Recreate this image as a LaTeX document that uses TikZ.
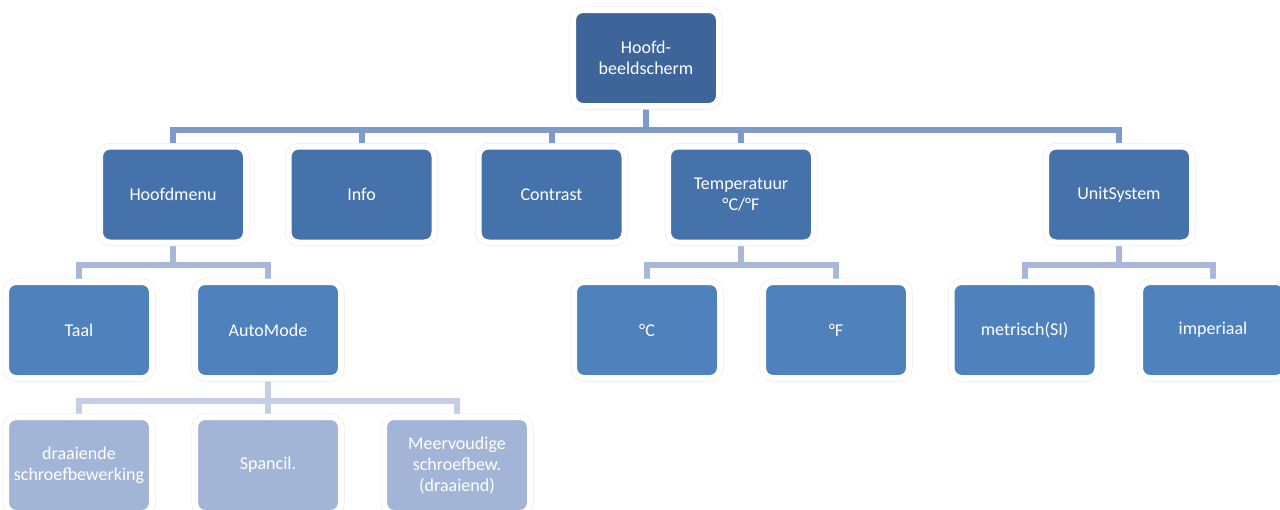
\documentclass[tikz,border=0pt]{standalone}
\usepackage{fontspec}
\setmainfont{Carlito}
\usetikzlibrary{backgrounds}
\definecolor{filltop}{HTML}{3D6599}
\definecolor{fillone}{HTML}{4672AB}
\definecolor{filltwo}{HTML}{4F81BD}
\definecolor{fillthree}{HTML}{A3B5D7}
\definecolor{linkone}{HTML}{7C9BCB}
\definecolor{linktwo}{HTML}{A7B8D9}
\definecolor{linkthree}{HTML}{C4CEE4}
\begin{document}
\begin{tikzpicture}[x=0.5pt, y=-0.5pt, line join=round, line cap=round,
	box/.style={rectangle, rounded corners=5pt, minimum width=73pt, minimum height=48pt,
		inner sep=0pt, text width=70pt, align=center, text=white,
		font=\fontsize{9}{10.5}\selectfont, draw=white, line width=3pt,
		preaction={draw=black!9, line width=3.5pt}},
	link/.style={line width=3pt}]
	\useasboundingbox (0,0) rectangle (1280,509);
	\clip (0,0) rectangle (1280,509);
	% top
	\node[box, fill=filltop] (hoofd) at (646,58) {Hoofd-\\beeldscherm};
	% level 1
	\node[box, fill=fillone] (menu) at (173,194.5) {Hoofdmenu};
	\node[box, fill=fillone] (info) at (361.5,194.5) {Info};
	\node[box, fill=fillone] (contrast) at (551.5,194.5) {Contrast};
	\node[box, fill=fillone] (temp) at (741,194.5) {Temperatuur\\°C/°F};
	\node[box, fill=fillone] (unit) at (1119,194.5) {UnitSystem};
	% level 2
	\node[box, fill=filltwo] (taal) at (79,330) {Taal};
	\node[box, fill=filltwo] (auto) at (268,330) {AutoMode};
	\node[box, fill=filltwo] (celsius) at (647,330) {°C};
	\node[box, fill=filltwo] (fahr) at (836,330) {°F};
	\node[box, fill=filltwo] (metr) at (1024.5,330) {metrisch(SI)};
	\node[box, fill=filltwo] (imp) at (1213,330) {imperiaal};
	% level 3
	\node[box, fill=fillthree] (draai) at (79,465) {draaiende\\schroefbewerking};
	\node[box, fill=fillthree] (spancil) at (268,465) {Spancil.};
	\node[box, fill=fillthree] (meer) at (457,465) {Meervoudige\\schroefbew.\\(draaiend)};
	\begin{scope}[on background layer]
		\foreach \c in {menu, info, contrast, temp, unit}
		\draw[link, linkone] (hoofd.south) -- ++(0,20.5) -| (\c.north);
		\foreach \p/\c in {menu/taal, menu/auto, temp/celsius, temp/fahr, unit/metr, unit/imp}
		\draw[link, linktwo] (\p.south) -- ++(0,19) -| (\c.north);
		\foreach \c in {draai, spancil, meer}
		\draw[link, linkthree] (auto.south) -- ++(0,20) -| (\c.north);
	\end{scope}
\end{tikzpicture}
\end{document}
